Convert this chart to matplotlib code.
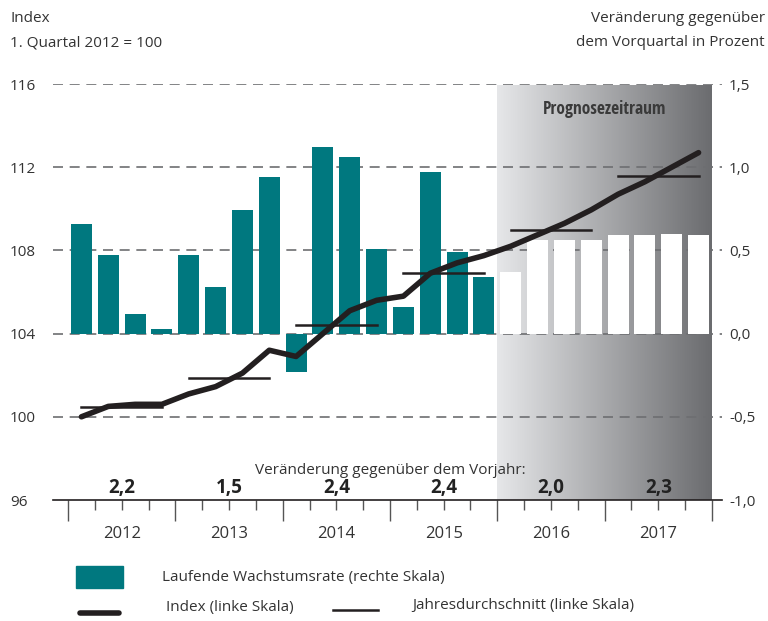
import numpy as np
import matplotlib.pyplot as plt
from matplotlib.colors import LinearSegmentedColormap

plt.rcParams['font.family'] = ['Open Sans', 'DejaVu Sans']

# Daten
jahre = ['2012', '2013', '2014', '2015', '2016', '2017']
wachstum = [0.66, 0.47, 0.12, 0.03,
            0.47, 0.28, 0.74, 0.94,
            -0.23, 1.12, 1.06, 0.51,
            0.16, 0.97, 0.49, 0.34,
            0.37, 0.56, 0.56, 0.56,
            0.59, 0.59, 0.60, 0.59]
index = [100.0, 100.5, 100.6, 100.6,
         101.1, 101.45, 102.1, 103.2,
         102.9, 104.0, 105.1, 105.6,
         105.8, 106.9, 107.4, 107.75,
         108.2, 108.75, 109.3, 109.95,
         110.7, 111.3, 112.0, 112.7]
jahresschnitt = [100.45, 101.85, 104.4, 106.9, 109.0, 111.6]
vorjahr = ['2,2', '1,5', '2,4', '2,4', '2,0', '2,3']
prognose_ab = 16  # erstes Prognosequartal

teal = '#00787f'
dunkel = '#231f20'
text = '#333333'

W, H = 768, 621
fig = plt.figure(figsize=(W / 100, H / 100), dpi=100)
L, R, B, T = 53, 722, 500, 84
ax2 = fig.add_axes([L / W, 1 - B / H, (R - L) / W, (B - T) / H])
ax = ax2.twinx()
ax.set_zorder(ax2.get_zorder() + 1)
ax.patch.set_visible(False)

x = np.arange(len(wachstum))
ax2.set_xlim(-0.5 - 15 / 26.83, 23.5 + 10 / 26.83)
ax2.set_ylim(-1, 1.5)
ax.set_ylim(96, 116)

# Prognosezeitraum Verlauf
cmap = LinearSegmentedColormap.from_list('g', ['#e6e7e9', '#6b6c6f'])
grad = np.linspace(0, 1, 256).reshape(1, -1)
ax2.imshow(grad, cmap=cmap, aspect='auto', extent=(prognose_ab - 0.5, 23.5, -1, 1.49),
           zorder=0)
ax2.text((prognose_ab - 0.5 + 23.5) / 2, 1.35, 'Prognosezeitraum', ha='center', va='center',
         fontsize=12.5, fontweight='bold', color='#3a3a3a',
         family=['Open Sans Condensed', 'Open Sans'])

# Gitter
for v in [-0.5, 0, 0.5, 1.0, 1.5]:
    ax2.axhline(v, color='#6d6e71', lw=1.2, ls=(0, (6, 4)), zorder=1)

# Balken
farben = [teal if i < prognose_ab else 'white' for i in x]
ax2.bar(x, wachstum, width=0.78, color=farben, zorder=2)

# Linien
ax.plot(x, index, color=dunkel, lw=4, solid_capstyle='round', solid_joinstyle='round', zorder=4)
for j, v in enumerate(jahresschnitt):
    ax.plot([4 * j, 4 * j + 3], [v, v], color=dunkel, lw=1.8, zorder=3)

# Achsen
for a in (ax, ax2):
    for s in ['top', 'left', 'right']:
        a.spines[s].set_visible(False)
ax2.spines['bottom'].set_color(dunkel)
ax2.spines['bottom'].set_linewidth(1.2)
ax.spines['bottom'].set_visible(False)

ax2.set_xticks(np.arange(-0.5, 24, 4))
ax2.set_xticks(np.arange(-0.5, 24, 1), minor=True)
ax2.tick_params(axis='x', which='major', length=15, width=1, color='#555555', labelbottom=False)
ax2.tick_params(axis='x', which='minor', length=7, width=1, color='#555555')
for j, jahr in enumerate(jahre):
    ax2.annotate(jahr, xy=(4 * j + 1.5, 0), xycoords=('data', 'axes fraction'),
                 xytext=(0, -24.5), textcoords='offset points', ha='center', va='center',
                 fontsize=12, color=text)

ax.set_yticks([96, 100, 104, 108, 112, 116])
ax.yaxis.set_ticks_position('left')
ax.tick_params(axis='y', length=0, pad=31, labelsize=11, labelcolor=text)
for lab in ax.get_yticklabels():
    lab.set_horizontalalignment('left')

ax2.set_yticks([-1.0, -0.5, 0, 0.5, 1.0, 1.5])
ax2.set_yticklabels(['-1,0', '-0,5', '0,0', '0,5', '1,0', '1,5'])
ax2.yaxis.set_ticks_position('right')
ax2.tick_params(axis='y', length=0, pad=5, labelsize=11, labelcolor=text)

# Veränderung gegenüber Vorjahr
ax2.text(11.5, -0.82, 'Veränderung gegenüber dem Vorjahr:', ha='center', va='center',
         fontsize=11, color=text, zorder=5)
for j, v in enumerate(vorjahr):
    ax2.text(4 * j + 1.5, -0.93, v, ha='center', va='center', fontsize=13.5,
             fontweight='bold', color='#222222', zorder=5)

# Kopftexte
fig.text(10 / W, 1 - 18 / H, 'Index', fontsize=11, color=text, va='center')
fig.text(10 / W, 1 - 43 / H, '1. Quartal 2012 = 100', fontsize=11, color=text, va='center')
fig.text(765 / W, 1 - 18 / H, 'Veränderung gegenüber', fontsize=11, color=text,
         va='center', ha='right')
fig.text(765 / W, 1 - 43 / H, 'dem Vorquartal in Prozent', fontsize=11, color=text,
         va='center', ha='right')

# Legende
fig.patches.append(plt.Rectangle((76 / W, 1 - 588 / H), 47 / W, 22 / H,
                                 transform=fig.transFigure, color=teal))
fig.add_artist(plt.Line2D([80 / W, 119 / W], [1 - 613 / H] * 2, color=dunkel, lw=4,
                          solid_capstyle='round'))
fig.add_artist(plt.Line2D([333 / W, 378 / W], [1 - 610 / H] * 2, color=dunkel, lw=1.8))
fig.text(162 / W, 1 - 577 / H, 'Laufende Wachstumsrate (rechte Skala)', fontsize=11,
         color=text, va='center')
fig.text(166 / W, 1 - 607 / H, 'Index (linke Skala)', fontsize=11, color=text, va='center')
fig.text(412 / W, 1 - 605 / H, 'Jahresdurchschnitt (linke Skala)', fontsize=11,
         color=text, va='center')

fig.savefig('out.png', dpi=100)
